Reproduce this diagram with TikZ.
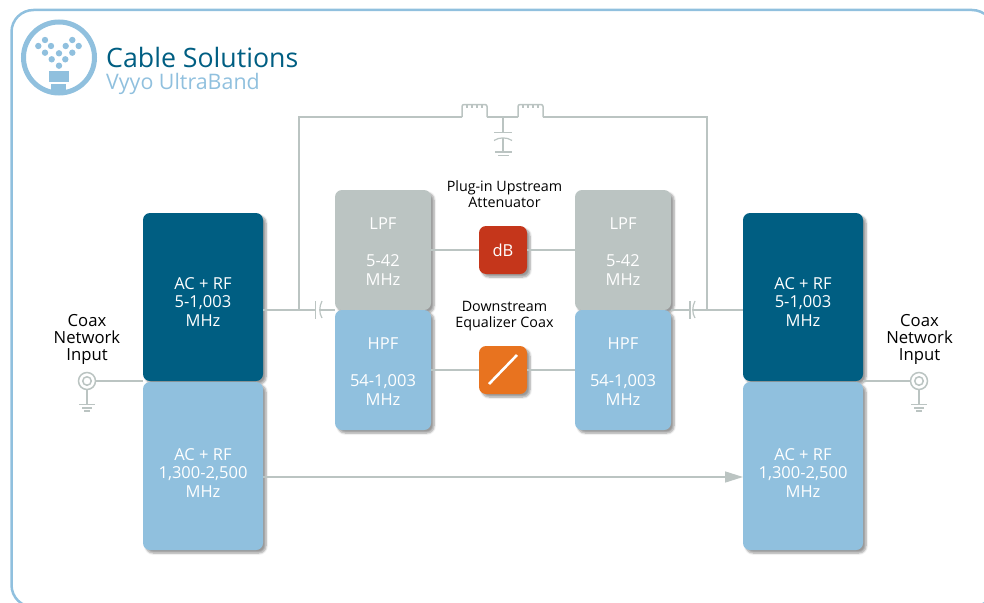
\documentclass[tikz,border=0pt]{standalone}
\usepackage{fontspec}
\setmainfont{Open Sans}
\usetikzlibrary{
  positioning,
  calc,
  arrows.meta,
  shadows.blur
}
\definecolor{cabledark}{HTML}{005E82}
\definecolor{cablelight}{HTML}{90C0DE}
\definecolor{wiregray}{HTML}{BBC4C2}
\definecolor{dbred}{HTML}{C5361B}
\definecolor{eqorange}{HTML}{E8731F}
\newcommand{\bandtext}[2]{\rule{0pt}{#1}AC + RF\\[0.5pt]#2\\[0.5pt]MHz}
\newcommand{\filtertext}[2]{\rule{0pt}{15pt}#1\\[19pt]#2\\[0.5pt]MHz}

\begin{document}
\begin{tikzpicture}[
  x=1pt, y=-1pt,
  node distance=0pt and 0pt,
  font=\fontsize{16.5}{18}\selectfont,
  block/.style={
    minimum width=120pt,
    minimum height=168pt,
    align=center,
    text=white,
    inner sep=0pt,
    outer sep=0pt,
    rounded corners=7pt,
    blur shadow={shadow xshift=3pt, shadow yshift=-3pt, shadow blur steps=6}
  },
  filter/.style={
    block,
    minimum width=96pt,
    minimum height=120pt
  },
  attn/.style={
    block,
    minimum width=48pt,
    minimum height=48pt
  },
  caption/.style={
    align=center,
    text=black,
    inner sep=0pt
  },
  jack/.style={
    draw=wiregray,
    line width=1.5pt,
    circle,
    inner sep=0pt,
    outer sep=0pt
  },
  wire/.style={draw=wiregray, line width=1.5pt},
  plate/.style={draw=wiregray, line width=1.2pt}
]
\useasboundingbox (0,0) rectangle (984,602);

% Frame
\draw[draw=cablelight, line width=2.5pt, rounded corners=22pt] (11.5,10) rectangle (994,607);

% Logo
\node[draw=cablelight, line width=5pt, circle, minimum size=71pt, inner sep=0pt] (logo) at (59,57.5) {};
\foreach \dx/\dy in {-20.7/-11.5, -14/-17.5, -8/-11.5, -14/-4.8, 0/-4.2, -7.3/1.8, 6.3/1.8, 0/8.2, 6.7/-11.5, 13.3/-17.5, 19.7/-11.5, 13.3/-4.8} {
  \fill[cablelight] ($(logo.center)+(\dx,\dy)$) circle (3.2pt);
}
\fill[cablelight] (49,71) rectangle (69,82);
\fill[cablelight] (51,84) rectangle (66,94);

% Title
\node[anchor=base west, inner sep=0pt, text=cabledark, font=\fontsize{26.7}{28}\selectfont] (title) at (106,67) {Cable Solutions};
\node[anchor=base west, inner sep=0pt, text=cablelight, font=\fontsize{21.4}{23}\selectfont] (subtitle) at (106,89) {Vyyo UltraBand};

% Free wire ends
\coordinate (jleft) at (299,310);
\coordinate (jright) at (707,310);
\coordinate (topleft) at (299,117);
\coordinate (topright) at (707,117);
\coordinate (lone) at (462,117);
\coordinate (ltwo) at (487,117);
\coordinate (lthree) at (518,117);
\coordinate (lfour) at (543,117);
\coordinate (ctop) at (503,117);
\coordinate (cplate) at (503,132);
\coordinate (cplatetwo) at (503,138);
\coordinate (cgnd) at (503,152);
\coordinate (capleft) at (315.5,310);
\coordinate (capleftb) at (319.7,310);
\coordinate (capright) at (690,310);
\coordinate (caprightb) at (692.7,310);
\coordinate (coaxl) at (87,381);
\coordinate (coaxr) at (919,381);
\coordinate (arrowlevel) at (0,477);

% Blocks
\node[block, fill=cabledark] (acl) at (203,297) {\bandtext{21pt}{5-1,003}};
\node[block, fill=cablelight, below=of acl, yshift=-1pt] (rfl) {\bandtext{25pt}{1,300-2,500}};
\node[block, fill=cabledark] (acr) at (803,297) {\bandtext{21pt}{5-1,003}};
\node[block, fill=cablelight, below=of acr, yshift=-1pt] (rfr) {\bandtext{25pt}{1,300-2,500}};

\node[filter, fill=wiregray] (lpfl) at (383,250) {\filtertext{LPF}{5-42}};
\node[filter, fill=cablelight, below=of lpfl] (hpfl) {\filtertext{HPF}{54-1,003}};
\node[filter, fill=wiregray] (lpfr) at (623,250) {\filtertext{LPF}{5-42}};
\node[filter, fill=cablelight, below=of lpfr] (hpfr) {\filtertext{HPF}{54-1,003}};

\node[attn, fill=dbred] (db) at (503,250) {dB};
\node[attn, fill=eqorange] (eq) at (503,370) {};

% Captions
\node[caption, font=\fontsize{14.3}{16.5}\selectfont] (plugcap) at (504.5,194) {Plug-in Upstream\\Attenuator};
\node[caption, font=\fontsize{14.3}{16.5}\selectfont] (downcap) at (504.5,316) {Downstream\\Equalizer Coax};
\node[caption, font=\fontsize{16.7}{17}\selectfont] (inl) at (87,339) {Coax\\Network\\Input};
\node[caption, font=\fontsize{16.7}{17}\selectfont] (inr) at (919.5,339) {Coax\\Network\\Input};

% Connectors
\draw[wire] (lpfl) -- (db);
\draw[wire] (db) -- (lpfr);
\draw[wire] (hpfl) -- (eq);
\draw[wire] (eq) -- (hpfr);
\draw[wire, -{Triangle[length=18pt,width=11pt]}] (rfl.east |- arrowlevel) -- (rfr.west |- arrowlevel);
\draw[wire] (acl.east |- jleft) -- (capleft);
\draw[wire] (capleftb) -- (lpfl.south west);
\draw[wire] (lpfr.south east) -- (capright);
\draw[wire] (caprightb) -- (acr.west |- jright);
\draw[wire] (jleft) -- (topleft) -- (lone);
\draw[wire, rounded corners=2pt] (lone) -- (462,104.5) -- (487,104.5) -- (ltwo);
\draw[wire] (ltwo) -- (lthree);
\draw[wire, rounded corners=2pt] (lthree) -- (518,104.5) -- (543,104.5) -- (lfour);
\draw[wire] (lfour) -- (topright) -- (jright);
\foreach \tx in {467,472,477,482,523,528,533,538} {
  \draw[plate] (\tx,104.5) -- (\tx,108);
}
\draw[wire] (ctop) -- (cplate);
\draw[plate] (494,132.5) -- (512,132.5);
\draw[plate] (494,140.5) .. controls (499,137) and (507,137) .. (512,140.5);
\draw[wire] (cplatetwo) -- (cgnd);
\draw[plate] (495,152) -- (512,152);
\draw[plate] (498,155.5) -- (509,155.5);

% Series capacitors
\draw[plate] (capleft) ++(0,-9) -- ++(0,17.5);
\draw[plate] (322,301) .. controls (319,307) and (319,313) .. (322,318);
\draw[plate] (capright) ++(0,-9) -- ++(0,17.5);
\draw[plate] (695,301) .. controls (692,307) and (692,313) .. (695,318);

% Coax connectors
\node[jack, minimum size=17pt] (jackl) at (coaxl) {};
\node[jack, minimum size=8.5pt] (holel) at (coaxl) {};
\node[jack, minimum size=17pt] (jackr) at (coaxr) {};
\node[jack, minimum size=8.5pt] (holer) at (coaxr) {};
\draw[wire] (jackl) -- (acl.south west);
\draw[wire] (jackr) -- (acr.south east);
\draw[wire] (jackl.south) -- ++(0,15);
\draw[wire] (jackr.south) -- ++(0,15);
\foreach \cx in {87,919} {
  \draw[plate] (\cx-8,404.5) -- (\cx+8,404.5);
  \draw[plate] (\cx-5,408) -- (\cx+5,408);
  \draw[plate] (\cx-3,411) -- (\cx+3,411);
}

% Slash in equalizer
\draw[white, line width=2.6pt] (489,384) -- (517,355);

\end{tikzpicture}
\end{document}
